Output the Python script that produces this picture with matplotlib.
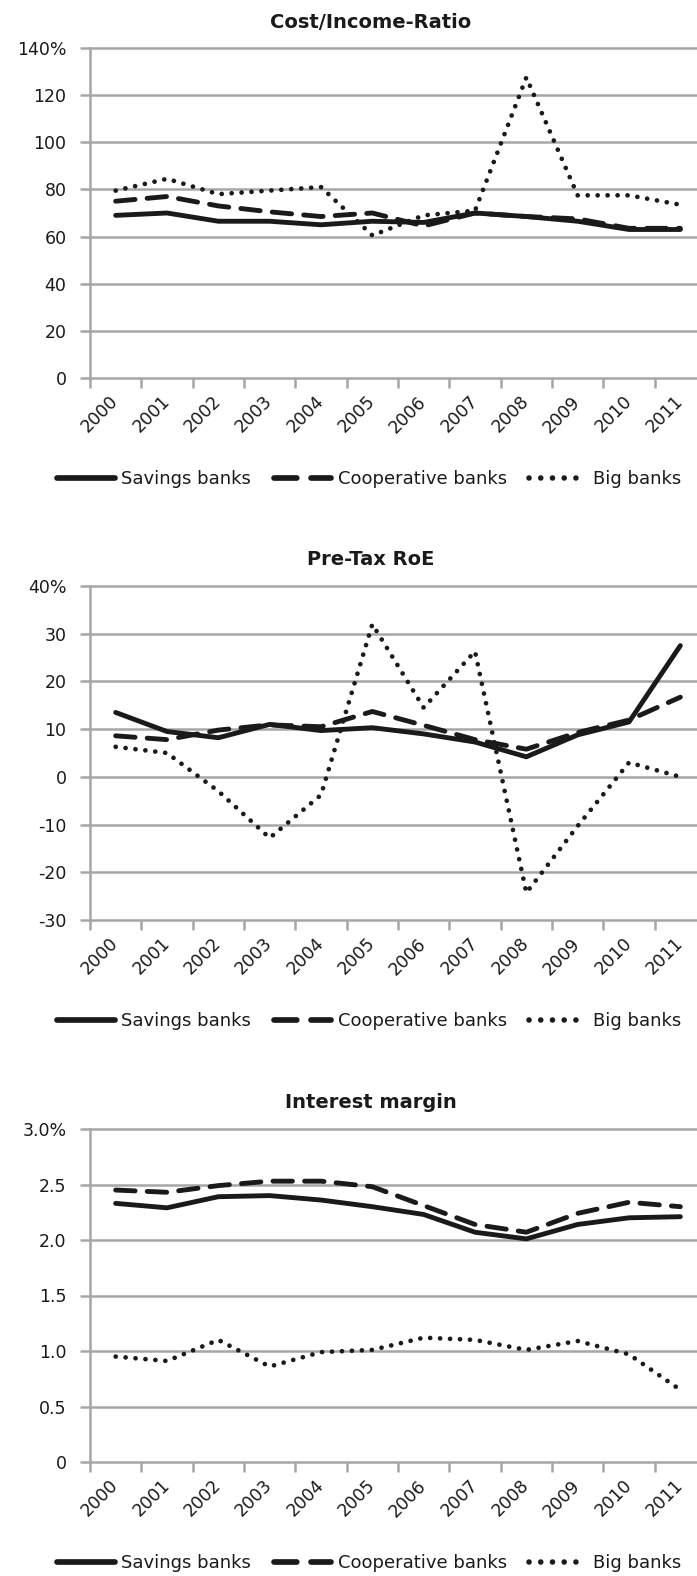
"""Cost/income, pre-tax RoE and interest margin of German bank groups, 2000-2011."""
import matplotlib
matplotlib.use("Agg")
import matplotlib.pyplot as plt
import numpy as np

years = ["2000", "2001", "2002", "2003", "2004", "2005",
         "2006", "2007", "2008", "2009", "2010", "2011"]
series_names = ["Savings banks", "Cooperative banks", "Big banks"]

cir_savings = [69, 70, 66.5, 66.5, 65, 66.5, 66, 70, 68.5, 66.5, 63, 63]
cir_coop = [75, 77, 73, 70.5, 68.5, 70, 64.5, 70, 68.5, 67.5, 63.5, 63.5]
cir_big = [79.5, 84.5, 78, 79.5, 81, 60.5, 69, 71, 127.5, 77.5, 77.5, 73.5]

roe_savings = [13.5, 9.5, 8.2, 11, 9.7, 10.3, 9, 7.3, 4.2, 8.8, 11.5, 27.5]
roe_coop = [8.6, 7.8, 9.8, 10.9, 10.5, 13.7, 10.8, 7.8, 5.8, 9.3, 11.9, 16.7]
roe_big = [6.3, 5, -3, -12.8, -3.8, 32, 14.5, 26.3, -24.3, -10.3, 3, 0]

im_savings = [2.33, 2.29, 2.39, 2.40, 2.36, 2.30, 2.23, 2.07, 2.01, 2.14, 2.20, 2.21]
im_coop = [2.45, 2.43, 2.49, 2.53, 2.53, 2.48, 2.31, 2.14, 2.07, 2.24, 2.34, 2.30]
im_big = [0.95, 0.91, 1.10, 0.86, 0.99, 1.01, 1.12, 1.10, 1.01, 1.09, 0.97, 0.65]

cir_ticks = [0, 20, 40, 60, 80, 100, 120, 140]
cir_labels = ["0", "20", "40", "60", "80", "100", "120", "140%"]
roe_ticks = [-30, -20, -10, 0, 10, 20, 30, 40]
roe_labels = ["-30", "-20", "-10", "0", "10", "20", "30", "40%"]
im_ticks = [0, 0.5, 1.0, 1.5, 2.0, 2.5, 3.0]
im_labels = ["0", "0.5", "1.0", "1.5", "2.0", "2.5", "3.0%"]

GRAY = "#a6a6a6"
INK = "#1a1a1a"
W, H = 697, 1576

plt.rcParams["font.family"] = ["DejaVu Sans"]


def panel(fig, top, bottom, title, values, ticks, labels):
    ax = fig.add_axes([90 / W, 1 - bottom / H, 616 / W, (bottom - top) / H])
    x = np.arange(len(years))
    styles = [
        dict(linestyle="-", lw=3.5, solid_capstyle="round"),
        dict(linestyle=(0, (4, 2.5)), lw=3.5, dash_capstyle="round"),
        dict(linestyle=(0, (0.01, 2.1)), lw=3.4, dash_capstyle="round"),
    ]
    lines = []
    for vals, style in zip(values, styles):
        line, = ax.plot(x, vals, color=INK, zorder=3, **style)
        lines.append(line)

    ax.set_xlim(-0.5, len(years) - 0.5)
    ax.set_ylim(ticks[0], ticks[-1])
    ax.set_yticks(ticks, labels=labels)
    for value in ticks:
        ax.axhline(value, color=GRAY, lw=1.8, zorder=1, clip_on=False)
    ax.set_xticks(np.arange(-0.5, len(years)), labels=[])
    ax.set_xticks(x, labels=years, minor=True)
    ax.tick_params(axis="x", which="major", length=7, width=1.8, color=GRAY)
    ax.tick_params(axis="x", which="minor", length=0, pad=15, labelsize=12.5,
                   labelcolor=INK)
    ax.tick_params(axis="y", length=7, width=1.8, color=GRAY, pad=10,
                   labelsize=12.5, labelcolor=INK)
    for label in ax.get_xticklabels(minor=True):
        label.set_rotation(45)
        label.set_ha("right")
        label.set_va("center")
        label.set_rotation_mode("anchor")
    for side in ["top", "right", "bottom"]:
        ax.spines[side].set_visible(False)
    ax.spines["left"].set_color(GRAY)
    ax.spines["left"].set_linewidth(1.8)

    fig.text(371 / W, 1 - (top - 26) / H, title, ha="center", va="center",
             fontsize=14, fontweight="bold", color=INK)
    legend = fig.legend(lines, series_names, loc="center left",
                        bbox_to_anchor=(57 / W, 1 - (bottom + 101) / H), ncol=3,
                        frameon=False, fontsize=13, handlelength=3.2,
                        handletextpad=0.35, columnspacing=1.25, borderpad=0,
                        borderaxespad=0, labelcolor=INK)
    for handle in legend.get_lines():
        handle.set_linewidth(handle.get_linewidth() + 0.6)
    return ax


fig = plt.figure(figsize=(W / 100, H / 100), dpi=100)
panel(fig, 48, 378, "Cost/Income-Ratio", [cir_savings, cir_coop, cir_big],
      cir_ticks, cir_labels)
panel(fig, 586, 920, "Pre-Tax RoE", [roe_savings, roe_coop, roe_big],
      roe_ticks, roe_labels)
panel(fig, 1129, 1462, "Interest margin", [im_savings, im_coop, im_big],
      im_ticks, im_labels)

fig.savefig("out.png", dpi=100, facecolor="white")
